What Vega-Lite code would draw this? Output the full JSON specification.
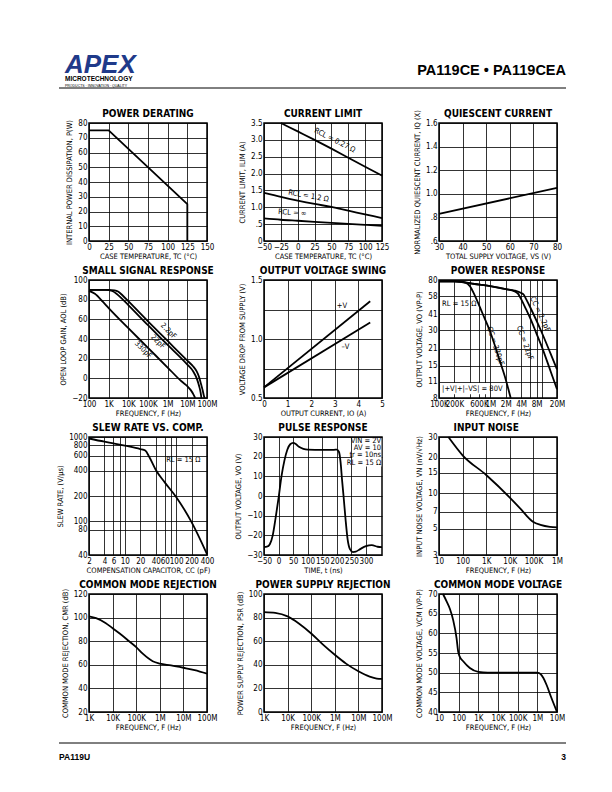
{
  "$schema": "https://vega.github.io/schema/vega-lite/v6.json",
  "padding": {"left": 55, "top": 52, "right": 5, "bottom": 5},
  "spacing": 10,
  "config": {
    "font": "Liberation Sans Narrow, DejaVu Sans Condensed, Liberation Sans, sans-serif",
    "view": {"stroke": "black", "strokeWidth": 1.5},
    "axis": {"grid": true, "gridColor": "black", "gridOpacity": 1, "gridWidth": 0.8, "ticks": false, "domain": false, "labelFontSize": 8, "labelColor": "black", "labelPadding": 2, "labelFlush": false, "labelOverlap": false, "titleFontSize": 7.5, "titleFontWeight": "normal", "titleColor": "black"},
    "axisX": {"titlePadding": 1},
    "axisY": {"titlePadding": 4},
    "text": {"fontSize": 7.5, "color": "black"},
    "line": {"color": "black", "strokeWidth": 1.8}
  },
  "datasets": {
    "derating": [{"temp":0,"power":75},{"temp":25,"power":75},{"temp":125,"power":25},{"temp":125,"power":0}],
    "climit": [
      {"rcl":"0.27","temp":-25,"amps":3.5},{"rcl":"0.27","temp":0,"amps":3.25},{"rcl":"0.27","temp":25,"amps":3.0},{"rcl":"0.27","temp":50,"amps":2.74},{"rcl":"0.27","temp":75,"amps":2.47},{"rcl":"0.27","temp":100,"amps":2.2},{"rcl":"0.27","temp":125,"amps":1.94},
      {"rcl":"1.2","temp":-50,"amps":1.43},{"rcl":"1.2","temp":-25,"amps":1.31},{"rcl":"1.2","temp":0,"amps":1.2},{"rcl":"1.2","temp":25,"amps":1.1},{"rcl":"1.2","temp":50,"amps":1.01},{"rcl":"1.2","temp":75,"amps":0.9},{"rcl":"1.2","temp":100,"amps":0.79},{"rcl":"1.2","temp":125,"amps":0.68},
      {"rcl":"inf","temp":-50,"amps":0.67},{"rcl":"inf","temp":-25,"amps":0.63},{"rcl":"inf","temp":0,"amps":0.6},{"rcl":"inf","temp":25,"amps":0.57},{"rcl":"inf","temp":50,"amps":0.54},{"rcl":"inf","temp":75,"amps":0.51},{"rcl":"inf","temp":100,"amps":0.48},{"rcl":"inf","temp":125,"amps":0.45}
    ],
    "quiescent": [{"vs":30,"iq":0.83},{"vs":80,"iq":1.05}],
    "smallsig": [
      {"cc":"2.2pF","freq":100,"gain":90},{"cc":"2.2pF","freq":1000,"gain":90},{"cc":"2.2pF","freq":2000,"gain":89.5},{"cc":"2.2pF","freq":3000,"gain":88.3},{"cc":"2.2pF","freq":5000,"gain":84.5},{"cc":"2.2pF","freq":10000,"gain":78.5},{"cc":"2.2pF","freq":100000,"gain":58},{"cc":"2.2pF","freq":1000000,"gain":38},{"cc":"2.2pF","freq":10000000,"gain":18},{"cc":"2.2pF","freq":20000000,"gain":12},{"cc":"2.2pF","freq":30000000,"gain":7},{"cc":"2.2pF","freq":40000000,"gain":1},{"cc":"2.2pF","freq":50000000,"gain":-6},{"cc":"2.2pF","freq":60000000,"gain":-12},{"cc":"2.2pF","freq":70000000,"gain":-18},{"cc":"2.2pF","freq":75000000,"gain":-20},
      {"cc":"22pF","freq":100,"gain":90},{"cc":"22pF","freq":700,"gain":90},{"cc":"22pF","freq":1500,"gain":88.8},{"cc":"22pF","freq":2500,"gain":86},{"cc":"22pF","freq":5000,"gain":80.5},{"cc":"22pF","freq":10000,"gain":74.5},{"cc":"22pF","freq":100000,"gain":54},{"cc":"22pF","freq":1000000,"gain":34},{"cc":"22pF","freq":10000000,"gain":14},{"cc":"22pF","freq":20000000,"gain":7},{"cc":"22pF","freq":30000000,"gain":0},{"cc":"22pF","freq":40000000,"gain":-8},{"cc":"22pF","freq":47000000,"gain":-14},{"cc":"22pF","freq":52000000,"gain":-20},
      {"cc":"330pF","freq":100,"gain":89},{"cc":"330pF","freq":200,"gain":86},{"cc":"330pF","freq":500,"gain":78},{"cc":"330pF","freq":1000,"gain":71.5},{"cc":"330pF","freq":10000,"gain":51},{"cc":"330pF","freq":100000,"gain":31},{"cc":"330pF","freq":1000000,"gain":11},{"cc":"330pF","freq":5000000,"gain":-3},{"cc":"330pF","freq":10000000,"gain":-8},{"cc":"330pF","freq":15000000,"gain":-12},{"cc":"330pF","freq":20000000,"gain":-16},{"cc":"330pF","freq":25000000,"gain":-20}
    ],
    "swing": [{"rail":"+V","current":0,"drop":0.59},{"rail":"+V","current":4.5,"drop":1.32},{"rail":"-V","current":0,"drop":0.59},{"rail":"-V","current":4.5,"drop":1.14}],
    "powerresp": [
      {"cc":"330pF","freq":100000,"vout":78},{"cc":"330pF","freq":250000,"vout":78},{"cc":"330pF","freq":330000,"vout":76},{"cc":"330pF","freq":400000,"vout":71},{"cc":"330pF","freq":500000,"vout":59},{"cc":"330pF","freq":700000,"vout":42},{"cc":"330pF","freq":1000000,"vout":29},{"cc":"330pF","freq":1500000,"vout":17},{"cc":"330pF","freq":2000000,"vout":11.5},{"cc":"330pF","freq":2500000,"vout":8},
      {"cc":"22pF","freq":100000,"vout":78},{"cc":"22pF","freq":200000,"vout":78},{"cc":"22pF","freq":500000,"vout":74},{"cc":"22pF","freq":1000000,"vout":71},{"cc":"22pF","freq":2000000,"vout":67},{"cc":"22pF","freq":3000000,"vout":64},{"cc":"22pF","freq":3500000,"vout":61},{"cc":"22pF","freq":4000000,"vout":55},{"cc":"22pF","freq":5000000,"vout":45},{"cc":"22pF","freq":6000000,"vout":38},{"cc":"22pF","freq":8000000,"vout":28},{"cc":"22pF","freq":10000000,"vout":22},{"cc":"22pF","freq":15000000,"vout":13.5},{"cc":"22pF","freq":20000000,"vout":9.5},
      {"cc":"2.2pF","freq":100000,"vout":78},{"cc":"2.2pF","freq":200000,"vout":78},{"cc":"2.2pF","freq":500000,"vout":74},{"cc":"2.2pF","freq":1000000,"vout":71},{"cc":"2.2pF","freq":2000000,"vout":67},{"cc":"2.2pF","freq":3000000,"vout":65},{"cc":"2.2pF","freq":4000000,"vout":62},{"cc":"2.2pF","freq":4500000,"vout":60},{"cc":"2.2pF","freq":5000000,"vout":55},{"cc":"2.2pF","freq":6000000,"vout":47},{"cc":"2.2pF","freq":8000000,"vout":36},{"cc":"2.2pF","freq":10000000,"vout":29},{"cc":"2.2pF","freq":15000000,"vout":19},{"cc":"2.2pF","freq":20000000,"vout":14}
    ],
    "slew": [{"cap":2,"rate":960},{"cap":4,"rate":880},{"cap":6,"rate":840},{"cap":10,"rate":790},{"cap":20,"rate":720},{"cap":25,"rate":690},{"cap":30,"rate":580},{"cap":40,"rate":410},{"cap":60,"rate":290},{"cap":100,"rate":195},{"cap":200,"rate":98},{"cap":400,"rate":41}],
    "pulse": [{"time":-50,"vout":-26},{"time":-40,"vout":-25.8},{"time":-30,"vout":-24.5},{"time":-20,"vout":-20},{"time":-10,"vout":-11},{"time":0,"vout":-1},{"time":10,"vout":10},{"time":20,"vout":18},{"time":30,"vout":23.5},{"time":40,"vout":26.3},{"time":50,"vout":27},{"time":60,"vout":26.3},{"time":70,"vout":25},{"time":85,"vout":24},{"time":100,"vout":23.6},{"time":150,"vout":23.5},{"time":190,"vout":23.5},{"time":200,"vout":23.6},{"time":207,"vout":22.5},{"time":213,"vout":17},{"time":218,"vout":8},{"time":223,"vout":0},{"time":230,"vout":-12},{"time":237,"vout":-22},{"time":245,"vout":-27},{"time":255,"vout":-28.5},{"time":265,"vout":-28.3},{"time":280,"vout":-27},{"time":300,"vout":-25.5},{"time":320,"vout":-25},{"time":340,"vout":-25.8},{"time":355,"vout":-26}],
    "noise": [{"freq":25,"vn":30},{"freq":100,"vn":21},{"freq":1000,"vn":14.3},{"freq":10000,"vn":9.2},{"freq":30000,"vn":7.3},{"freq":50000,"vn":6.5},{"freq":100000,"vn":5.7},{"freq":200000,"vn":5.4},{"freq":500000,"vn":5.2},{"freq":1000000,"vn":5.15}],
    "cmr": [{"freq":1000,"cmr":101},{"freq":2000,"cmr":99.5},{"freq":5000,"cmr":95.5},{"freq":10000,"cmr":91},{"freq":20000,"cmr":86.5},{"freq":50000,"cmr":80},{"freq":100000,"cmr":75},{"freq":200000,"cmr":69},{"freq":500000,"cmr":63},{"freq":1000000,"cmr":61},{"freq":3000000,"cmr":59.5},{"freq":10000000,"cmr":57.5},{"freq":30000000,"cmr":55.5},{"freq":100000000,"cmr":52.5}],
    "psr": [{"freq":1000,"psr":84.7},{"freq":3000,"psr":84},{"freq":10000,"psr":81},{"freq":30000,"psr":75},{"freq":100000,"psr":66.5},{"freq":300000,"psr":57.5},{"freq":1000000,"psr":48.5},{"freq":3000000,"psr":41},{"freq":10000000,"psr":34.5},{"freq":30000000,"psr":30},{"freq":60000000,"psr":28.3},{"freq":100000000,"psr":28}],
    "cmv": [{"freq":16,"vcm":70},{"freq":25,"vcm":68},{"freq":36,"vcm":66.2},{"freq":53,"vcm":63.3},{"freq":78,"vcm":58.8},{"freq":95,"vcm":55.3},{"freq":110,"vcm":54.2},{"freq":170,"vcm":52.9},{"freq":370,"vcm":51.2},{"freq":1000,"vcm":50.2},{"freq":3000,"vcm":50},{"freq":1000000,"vcm":50},{"freq":1500000,"vcm":49.6},{"freq":2000000,"vcm":48.7},{"freq":3000000,"vcm":46.8},{"freq":5000000,"vcm":43.8},{"freq":10000000,"vcm":40}]
  },
  "vconcat": [
    {
      "width": 477, "height": 45,
      "view": {"stroke": null},
      "data": {"values": [{}]},
      "layer": [
        {"mark": {"type": "text", "text": "APEX", "align": "left", "baseline": "alphabetic", "fontSize": 26, "fontWeight": "bold", "fontStyle": "italic", "font": "Liberation Sans", "color": "#1f3a8a"},
         "encoding": {"x": {"datum": -24, "type": "quantitative", "scale": {"domain": [0, 477], "nice": false, "zero": false}, "axis": null}, "y": {"datum": 25, "type": "quantitative", "scale": {"domain": [0, 45], "nice": false}, "axis": null}}},
        {"mark": {"type": "text", "text": "MICROTECHNOLOGY", "align": "left", "baseline": "alphabetic", "fontSize": 6.5, "fontWeight": "bold", "font": "Liberation Sans", "color": "black"},
         "encoding": {"x": {"datum": -24, "type": "quantitative"}, "y": {"datum": 17.5, "type": "quantitative"}}},
        {"mark": {"type": "text", "text": "PRODUCTS · INNOVATION · QUALITY", "align": "left", "baseline": "alphabetic", "fontSize": 3.5, "font": "Liberation Sans", "color": "black"},
         "encoding": {"x": {"datum": -24, "type": "quantitative"}, "y": {"datum": 11.3, "type": "quantitative"}}},
        {"mark": {"type": "text", "text": "PA119CE • PA119CEA", "align": "right", "baseline": "alphabetic", "fontSize": 14.5, "fontWeight": "bold", "font": "Liberation Sans", "color": "black"},
         "encoding": {"x": {"datum": 477, "type": "quantitative"}, "y": {"datum": 23, "type": "quantitative"}}},
        {"mark": {"type": "rule", "color": "black", "strokeWidth": 1},
         "encoding": {"x": {"datum": -30, "type": "quantitative"}, "x2": {"datum": 477}, "y": {"datum": 10, "type": "quantitative"}}}
      ]
    },
    {
      "columns": 3,
      "bounds": "flush",
      "spacing": {"row": 39, "column": 57},
      "concat": [
        {
          "width": 118, "height": 118,
          "encoding": {
            "x": {"field": "temp", "type": "quantitative", "scale": {"domain": [0, 150], "nice": false}, "axis": {"values": [0,25,50,75,100,125,150], "title": "CASE TEMPERATURE, TC (°C)"}},
            "y": {"field": "power", "type": "quantitative", "scale": {"domain": [0, 80], "nice": false}, "axis": {"values": [0,10,20,30,40,50,60,70,80], "title": "INTERNAL POWER DISSIPATION, P(W)"}}
          },
          "layer": [
            {"data": {"name": "derating"}, "mark": {"type": "line"}, "encoding": {"order": {"value": null}}},
            {"data": {"values": [{"label": "POWER DERATING", "temp": 75, "power": 83.86}]}, "mark": {"type": "text", "fontSize": 10, "fontWeight": "bold", "baseline": "alphabetic"}, "encoding": {"text": {"field": "label"}}}
          ]
        },
        {
          "width": 118, "height": 118,
          "encoding": {
            "x": {"field": "temp", "type": "quantitative", "scale": {"domain": [-50, 125], "nice": false, "zero": false}, "axis": {"values": [-50,-25,0,25,50,75,100,125], "title": "CASE TEMPERATURE, TC (°C)"}},
            "y": {"field": "amps", "type": "quantitative", "scale": {"domain": [0, 3.5], "nice": false}, "axis": {"values": [0,0.5,1,1.5,2,2.5,3,3.5], "labelExpr": "datum.value == 0 ? '0' : datum.value == 0.5 ? '.5' : format(datum.value, '.1f')", "title": "CURRENT LIMIT, ILIM (A)"}}
          },
          "layer": [
            {"data": {"name": "climit"}, "mark": {"type": "line", "interpolate": "monotone"}, "encoding": {"detail": {"field": "rcl"}, "order": {"value": null}}},
            {"data": {"values": [{"label": "CURRENT LIMIT", "temp": 37.5, "amps": 3.669}]}, "mark": {"type": "text", "fontSize": 10, "fontWeight": "bold", "baseline": "alphabetic"}, "encoding": {"text": {"field": "label"}}},
            {"data": {"values": [{"label": "RCL = 0.27 Ω", "temp": 55, "amps": 2.98}]}, "mark": {"type": "text", "angle": 27}, "encoding": {"text": {"field": "label"}}},
            {"data": {"values": [{"label": "RCL = 1.2 Ω", "temp": 16, "amps": 1.33}]}, "mark": {"type": "text", "angle": 10}, "encoding": {"text": {"field": "label"}}},
            {"data": {"values": [{"label": "RCL = ∞", "temp": -8, "amps": 0.83}]}, "mark": {"type": "text", "angle": 4}, "encoding": {"text": {"field": "label"}}}
          ]
        },
        {
          "width": 118, "height": 118,
          "encoding": {
            "x": {"field": "vs", "type": "quantitative", "scale": {"domain": [30, 80], "nice": false, "zero": false}, "axis": {"values": [30,40,50,60,70,80], "title": "TOTAL SUPPLY VOLTAGE, VS (V)"}},
            "y": {"field": "iq", "type": "quantitative", "scale": {"domain": [0.6, 1.6], "nice": false, "zero": false}, "axis": {"values": [0.6,0.8,1.0,1.2,1.4,1.6], "labelExpr": "datum.value < 1 ? replace(format(datum.value, '.1f'), '0.', '.') : format(datum.value, '.1f')", "title": "NORMALIZED QUIESCENT CURRENT, IQ (X)"}}
          },
          "layer": [
            {"data": {"name": "quiescent"}, "mark": {"type": "line"}},
            {"data": {"values": [{"label": "QUIESCENT CURRENT", "vs": 55, "iq": 1.6483}]}, "mark": {"type": "text", "fontSize": 10, "fontWeight": "bold", "baseline": "alphabetic"}, "encoding": {"text": {"field": "label"}}}
          ]
        },
        {
          "width": 118, "height": 118,
          "encoding": {
            "x": {"field": "freq", "type": "quantitative", "scale": {"type": "log", "domain": [100, 100000000], "nice": false}, "axis": {"values": [100,1000,10000,100000,1000000,10000000,100000000], "labelExpr": "datum.value >= 1000000 ? (datum.value / 1000000) + 'M' : datum.value >= 1000 ? (datum.value / 1000) + 'K' : '' + datum.value", "title": "FREQUENCY, F (Hz)"}},
            "y": {"field": "gain", "type": "quantitative", "scale": {"domain": [-20, 100], "nice": false}, "axis": {"values": [-20,0,20,40,60,80,100], "title": "OPEN LOOP GAIN, AOL (dB)"}}
          },
          "layer": [
            {"data": {"name": "smallsig"}, "mark": {"type": "line", "interpolate": "monotone"}, "encoding": {"detail": {"field": "cc"}, "order": {"value": null}}},
            {"data": {"values": [{"label": "SMALL SIGNAL RESPONSE", "freq": 100000, "gain": 105.8}]}, "mark": {"type": "text", "fontSize": 10, "fontWeight": "bold", "baseline": "alphabetic"}, "encoding": {"text": {"field": "label"}}},
            {"data": {"values": [{"label": "2.2pF", "freq": 1080000, "gain": 48}, {"label": "22pF", "freq": 316000, "gain": 37}, {"label": "330pF", "freq": 56000, "gain": 29}]}, "mark": {"type": "text", "angle": 45}, "encoding": {"text": {"field": "label"}}}
          ]
        },
        {
          "width": 118, "height": 118,
          "encoding": {
            "x": {"field": "current", "type": "quantitative", "scale": {"domain": [0, 5], "nice": false}, "axis": {"values": [0,1,2,3,4,5], "title": "OUTPUT CURRENT, IO (A)"}},
            "y": {"field": "drop", "type": "quantitative", "scale": {"domain": [0.5, 1.5], "nice": false, "zero": false}, "axis": {"values": [0.5,0.75,1,1.25,1.5], "labelExpr": "datum.value == 0.5 ? '0.5' : datum.value == 1 ? '1.0' : datum.value == 1.5 ? '1.5' : ''", "title": "VOLTAGE DROP FROM SUPPLY (V)"}}
          },
          "layer": [
            {"data": {"name": "swing"}, "mark": {"type": "line"}, "encoding": {"detail": {"field": "rail"}, "order": {"value": null}}},
            {"data": {"values": [{"label": "OUTPUT VOLTAGE SWING", "current": 2.5, "drop": 1.5483}]}, "mark": {"type": "text", "fontSize": 10, "fontWeight": "bold", "baseline": "alphabetic"}, "encoding": {"text": {"field": "label"}}},
            {"data": {"values": [{"label": "+V", "current": 3.3, "drop": 1.28}, {"label": "–V", "current": 3.45, "drop": 0.93}]}, "mark": {"type": "text"}, "encoding": {"text": {"field": "label"}}}
          ]
        },
        {
          "width": 118, "height": 118,
          "encoding": {
            "x": {"field": "freq", "type": "quantitative", "scale": {"type": "log", "domain": [100000, 20000000], "nice": false}, "axis": {"values": [100000,200000,400000,600000,800000,1000000,2000000,4000000,6000000,8000000,10000000,20000000], "labelExpr": "indexof([100000,200000,600000,1000000,2000000,4000000,8000000,20000000], datum.value) < 0 ? '' : datum.value >= 1000000 ? (datum.value / 1000000) + 'M' : (datum.value / 1000) + 'K'", "title": "FREQUENCY, F (Hz)"}},
            "y": {"field": "vout", "type": "quantitative", "scale": {"type": "log", "domain": [8, 80], "nice": false}, "axis": {"values": [8,11,15,21,30,41,58,80], "title": "OUTPUT VOLTAGE, VO (VP-P)"}}
          },
          "layer": [
            {"data": {"name": "powerresp"}, "mark": {"type": "line", "interpolate": "monotone"}, "encoding": {"detail": {"field": "cc"}, "order": {"value": null}}},
            {"data": {"values": [{"label": "POWER RESPONSE", "freq": 1414214, "vout": 89.4}]}, "mark": {"type": "text", "fontSize": 10, "fontWeight": "bold", "baseline": "alphabetic"}, "encoding": {"text": {"field": "label"}}},
            {"data": {"values": [{"freq": 107000, "vout": 8.6}]}, "mark": {"type": "rect", "fill": "white"}, "encoding": {"x2": {"datum": 880000}, "y2": {"datum": 10.7}}},
            {"data": {"values": [{"label": "|+V|+|–VS| = 80V", "freq": 115000, "vout": 9.5}, {"label": "RL = 15 Ω", "freq": 115000, "vout": 50}]}, "mark": {"type": "text", "align": "left"}, "encoding": {"text": {"field": "label"}}},
            {"data": {"values": [{"label": "CC = 330pF", "freq": 1250000, "vout": 22}]}, "mark": {"type": "text", "angle": 72}, "encoding": {"text": {"field": "label"}}},
            {"data": {"values": [{"label": "CC = 22pF", "freq": 4700000, "vout": 23.4}]}, "mark": {"type": "text", "angle": 70}, "encoding": {"text": {"field": "label"}}},
            {"data": {"values": [{"label": "CC = 2.2pF", "freq": 9300000, "vout": 41}]}, "mark": {"type": "text", "angle": 65}, "encoding": {"text": {"field": "label"}}}
          ]
        },
        {
          "width": 118, "height": 118,
          "encoding": {
            "x": {"field": "cap", "type": "quantitative", "scale": {"type": "log", "domain": [2, 400], "nice": false}, "axis": {"values": [2,4,6,8,10,20,40,60,80,100,200,400], "labelExpr": "indexof([8,80], datum.value) >= 0 ? '' : format(datum.value, 'd')", "title": "COMPENSATION CAPACITOR, CC (pF)"}},
            "y": {"field": "rate", "type": "quantitative", "scale": {"type": "log", "domain": [40, 1000], "nice": false}, "axis": {"values": [40,80,100,200,400,600,800,1000], "labelExpr": "format(datum.value, 'd')", "title": "SLEW RATE, (V/µs)"}}
          },
          "layer": [
            {"data": {"name": "slew"}, "mark": {"type": "line", "interpolate": "monotone"}, "encoding": {"order": {"value": null}}},
            {"data": {"values": [{"label": "SLEW RATE VS. COMP.", "cap": 28.28, "rate": 1168}]}, "mark": {"type": "text", "fontSize": 10, "fontWeight": "bold", "baseline": "alphabetic"}, "encoding": {"text": {"field": "label"}}},
            {"data": {"values": [{"label": "RL = 15 Ω", "cap": 64, "rate": 540}]}, "mark": {"type": "text", "align": "left"}, "encoding": {"text": {"field": "label"}}}
          ]
        },
        {
          "width": 118, "height": 118,
          "encoding": {
            "x": {"field": "time", "type": "quantitative", "scale": {"domain": [-50, 355], "nice": false, "zero": false}, "axis": {"values": [-50,0,50,100,150,200,250,300], "title": "TIME, t (ns)"}},
            "y": {"field": "vout", "type": "quantitative", "scale": {"domain": [-30, 30], "nice": false}, "axis": {"values": [-30,-20,-10,0,10,20,30], "title": "OUTPUT VOLTAGE, VO (V)"}}
          },
          "layer": [
            {"data": {"name": "pulse"}, "mark": {"type": "line", "interpolate": "monotone"}, "encoding": {"order": {"value": null}}},
            {"data": {"values": [{"label": "PULSE RESPONSE", "time": 152.5, "vout": 32.9}]}, "mark": {"type": "text", "fontSize": 10, "fontWeight": "bold", "baseline": "alphabetic"}, "encoding": {"text": {"field": "label"}}},
            {"data": {"values": [{"time": 253, "vout": 15}]}, "mark": {"type": "rect", "fill": "white"}, "encoding": {"x2": {"datum": 353}, "y2": {"datum": 29.5}}},
            {"data": {"values": [{"label": "VIN = 2V", "time": 352, "vout": 27.8}, {"label": "AV = 10", "time": 352, "vout": 24.4}, {"label": "tr = 10ns", "time": 352, "vout": 20.6}, {"label": "RL = 15 Ω", "time": 352, "vout": 16.9}]}, "mark": {"type": "text", "align": "right"}, "encoding": {"text": {"field": "label"}}}
          ]
        },
        {
          "width": 118, "height": 118,
          "encoding": {
            "x": {"field": "freq", "type": "quantitative", "scale": {"type": "log", "domain": [10, 1000000], "nice": false}, "axis": {"values": [10,100,1000,10000,100000,1000000], "labelExpr": "datum.value >= 1000000 ? (datum.value / 1000000) + 'M' : datum.value >= 1000 ? (datum.value / 1000) + 'K' : '' + datum.value", "title": "FREQUENCY, F (Hz)"}},
            "y": {"field": "vn", "type": "quantitative", "scale": {"type": "log", "domain": [3, 30], "nice": false}, "axis": {"values": [3,5,7,10,15,20,30], "title": "INPUT NOISE VOLTAGE, VN (nV/√Hz)"}}
          },
          "layer": [
            {"data": {"name": "noise"}, "mark": {"type": "line", "interpolate": "monotone"}, "encoding": {"order": {"value": null}}},
            {"data": {"values": [{"label": "INPUT NOISE", "freq": 1000, "vn": 33.5}]}, "mark": {"type": "text", "fontSize": 10, "fontWeight": "bold", "baseline": "alphabetic"}, "encoding": {"text": {"field": "label"}}}
          ]
        },
        {
          "width": 118, "height": 118,
          "encoding": {
            "x": {"field": "freq", "type": "quantitative", "scale": {"type": "log", "domain": [1000, 100000000], "nice": false}, "axis": {"values": [1000,10000,100000,1000000,10000000,100000000], "labelExpr": "datum.value >= 1000000 ? (datum.value / 1000000) + 'M' : (datum.value / 1000) + 'K'", "title": "FREQUENCY, F (Hz)"}},
            "y": {"field": "cmr", "type": "quantitative", "scale": {"domain": [20, 120], "nice": false, "zero": false}, "axis": {"values": [20,40,60,80,100,120], "title": "COMMON MODE REJECTION, CMR (dB)"}}
          },
          "layer": [
            {"data": {"name": "cmr"}, "mark": {"type": "line", "interpolate": "monotone"}, "encoding": {"order": {"value": null}}},
            {"data": {"values": [{"label": "COMMON MODE REJECTION", "freq": 316228, "cmr": 124.83}]}, "mark": {"type": "text", "fontSize": 10, "fontWeight": "bold", "baseline": "alphabetic"}, "encoding": {"text": {"field": "label"}}}
          ]
        },
        {
          "width": 118, "height": 118,
          "encoding": {
            "x": {"field": "freq", "type": "quantitative", "scale": {"type": "log", "domain": [1000, 100000000], "nice": false}, "axis": {"values": [1000,10000,100000,1000000,10000000,100000000], "labelExpr": "datum.value >= 1000000 ? (datum.value / 1000000) + 'M' : (datum.value / 1000) + 'K'", "title": "FREQUENCY, F (Hz)"}},
            "y": {"field": "psr", "type": "quantitative", "scale": {"domain": [0, 100], "nice": false}, "axis": {"values": [0,20,40,60,80,100], "title": "POWER SUPPLY REJECTION, PSR (dB)"}}
          },
          "layer": [
            {"data": {"name": "psr"}, "mark": {"type": "line", "interpolate": "monotone"}, "encoding": {"order": {"value": null}}},
            {"data": {"values": [{"label": "POWER SUPPLY REJECTION", "freq": 316228, "psr": 104.83}]}, "mark": {"type": "text", "fontSize": 10, "fontWeight": "bold", "baseline": "alphabetic"}, "encoding": {"text": {"field": "label"}}}
          ]
        },
        {
          "width": 118, "height": 118,
          "encoding": {
            "x": {"field": "freq", "type": "quantitative", "scale": {"type": "log", "domain": [10, 10000000], "nice": false}, "axis": {"values": [10,100,1000,10000,100000,1000000,10000000], "labelExpr": "datum.value >= 1000000 ? (datum.value / 1000000) + 'M' : datum.value >= 1000 ? (datum.value / 1000) + 'K' : '' + datum.value", "title": "FREQUENCY, F (Hz)"}},
            "y": {"field": "vcm", "type": "quantitative", "scale": {"domain": [40, 70], "nice": false, "zero": false}, "axis": {"values": [40,45,50,55,60,65,70], "title": "COMMON MODE VOLTAGE, VCM (VP-P)"}}
          },
          "layer": [
            {"data": {"name": "cmv"}, "mark": {"type": "line", "interpolate": "monotone"}, "encoding": {"order": {"value": null}}},
            {"data": {"values": [{"label": "COMMON MODE VOLTAGE", "freq": 10000, "vcm": 71.45}]}, "mark": {"type": "text", "fontSize": 10, "fontWeight": "bold", "baseline": "alphabetic"}, "encoding": {"text": {"field": "label"}}}
          ]
        }
      ]
    },
    {
      "width": 477, "height": 25,
      "view": {"stroke": null},
      "data": {"values": [{}]},
      "layer": [
        {"mark": {"type": "rule", "color": "black", "strokeWidth": 1},
         "encoding": {"x": {"datum": -30, "type": "quantitative", "scale": {"domain": [0, 477], "nice": false, "zero": false}, "axis": null}, "x2": {"datum": 477}, "y": {"datum": 25, "type": "quantitative", "scale": {"domain": [0, 25], "nice": false}, "axis": null}}},
        {"mark": {"type": "text", "text": "PA119U", "align": "left", "baseline": "alphabetic", "fontSize": 8.5, "fontWeight": "bold", "font": "Liberation Sans", "color": "black"},
         "encoding": {"x": {"datum": -30, "type": "quantitative"}, "y": {"datum": 8, "type": "quantitative"}}},
        {"mark": {"type": "text", "text": "3", "align": "right", "baseline": "alphabetic", "fontSize": 8.5, "fontWeight": "bold", "font": "Liberation Sans", "color": "black"},
         "encoding": {"x": {"datum": 477, "type": "quantitative"}, "y": {"datum": 8, "type": "quantitative"}}}
      ]
    }
  ]
}
